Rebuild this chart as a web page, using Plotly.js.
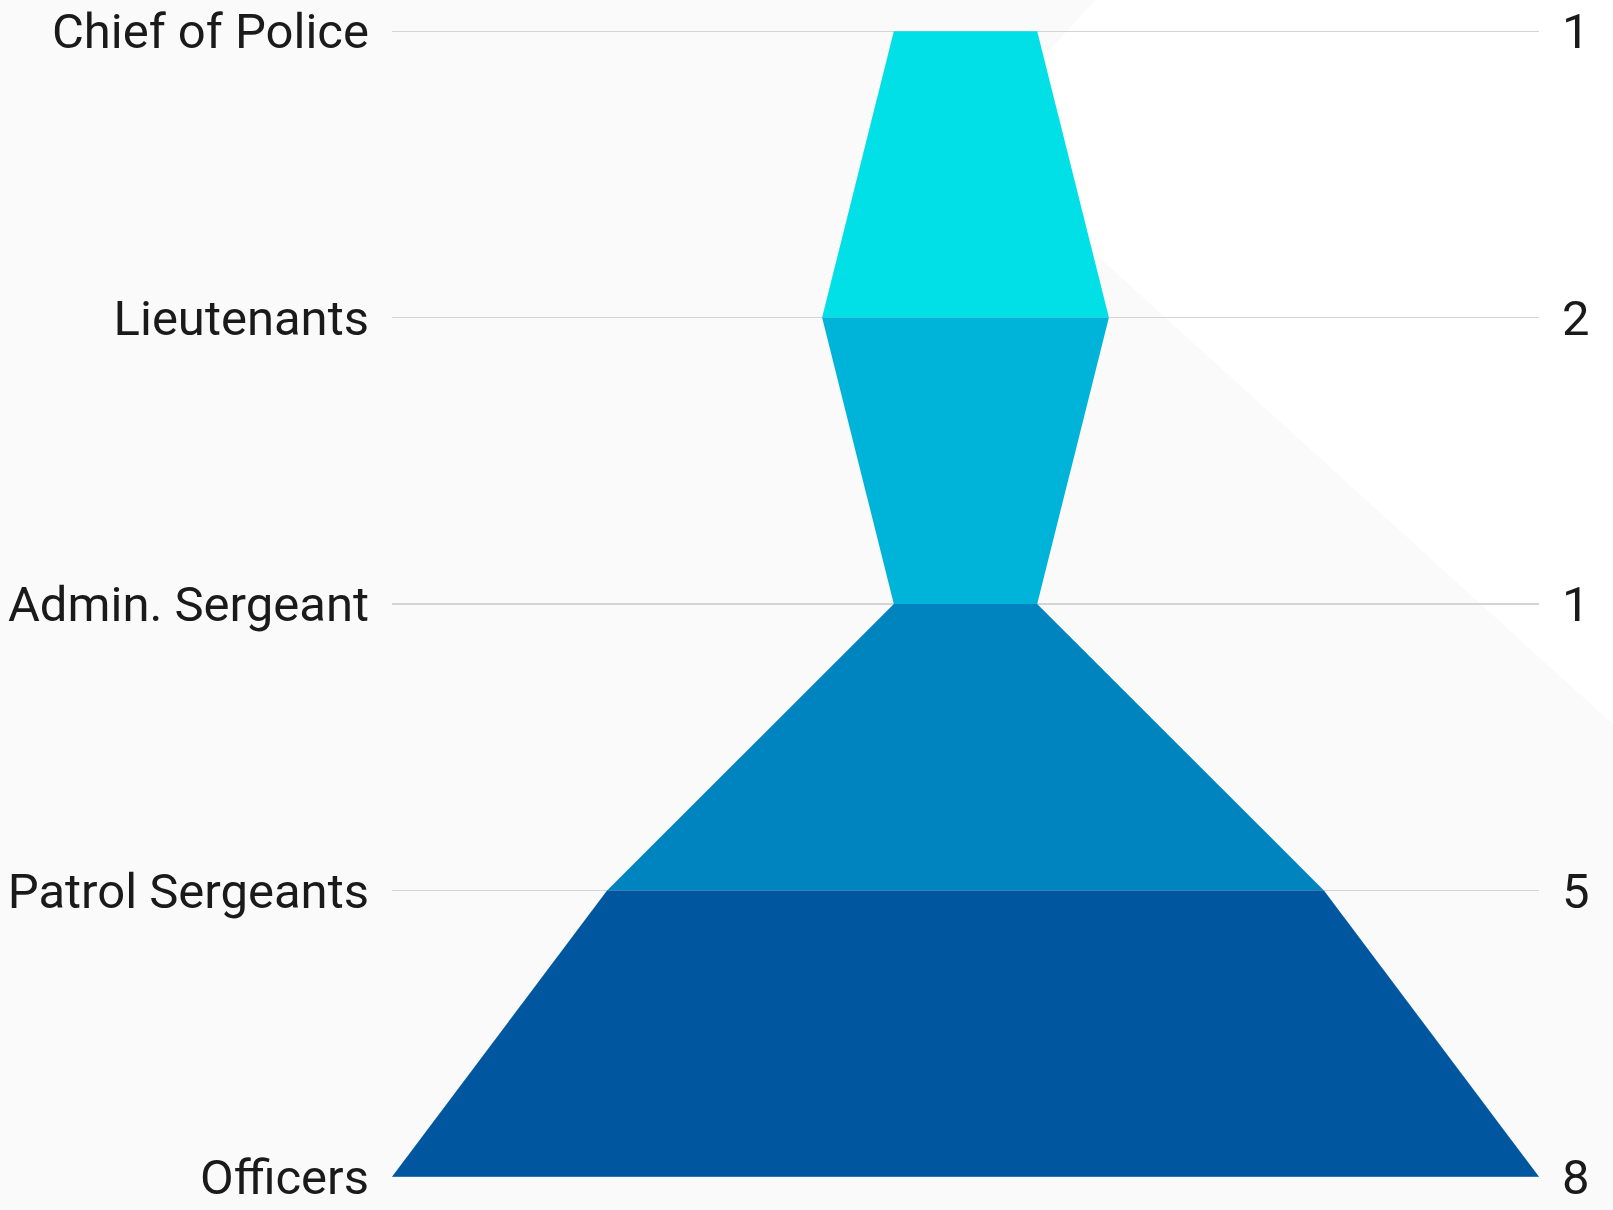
<!DOCTYPE html>
<html>
<head>
<meta charset="utf-8">
<script src="https://cdn.plot.ly/plotly-3.0.1.min.js"></script>
<style>
  html, body { margin: 0; padding: 0; background: #FAFAFA; }
  #chart { width: 1613px; height: 1210px; }
</style>
</head>
<body>
<div id="chart"></div>
<script>
// Data
const categories = ['Chief of Police', 'Lieutenants', 'Admin. Sergeant', 'Patrol Sergeants', 'Officers'];
const counts = [1, 2, 1, 5, 8];
const bandColors = ['#00E0E6', '#00B3D8', '#0084C0', '#0057A0'];

const maxCount = Math.max(...counts);
const positions = categories.map((_, i) => i);

const traces = [];
for (let i = 0; i < categories.length - 1; i++) {
  const a = counts[i] / 2, b = counts[i + 1] / 2;
  traces.push({
    type: 'scatter',
    mode: 'lines',
    x: [-a, a, b, -b, -a],
    y: [positions[i], positions[i], positions[i + 1], positions[i + 1], positions[i]],
    fill: 'toself',
    fillcolor: bandColors[i],
    line: { width: 0, color: bandColors[i] },
    hoverinfo: 'skip',
    showlegend: false
  });
}
// invisible trace to anchor right axis
traces.push({
  type: 'scatter', mode: 'markers', x: [0], y: [0], yaxis: 'y2',
  marker: { opacity: 0 }, hoverinfo: 'skip', showlegend: false
});

const pad = 0.004;
const tickFont = { family: 'Roboto, "Liberation Sans", sans-serif', size: 49, color: '#1a1a1a' };

const layout = {
  width: 1613,
  height: 1210,
  margin: { l: 392, r: 74, t: 30, b: 32 },
  paper_bgcolor: '#FAFAFA',
  plot_bgcolor: 'rgba(0,0,0,0)',
  showlegend: false,
  xaxis: {
    range: [-maxCount / 2, maxCount / 2],
    showgrid: false, zeroline: false, showticklabels: false, showline: false, fixedrange: true
  },
  yaxis: {
    range: [categories.length - 1 + pad, -pad],
    tickmode: 'array',
    tickvals: positions,
    ticktext: categories,
    showgrid: true,
    gridcolor: '#D4D4D4',
    gridwidth: 1.2,
    zeroline: false,
    showline: false,
    ticks: '',
    ticklabelstandoff: 22,
    tickfont: tickFont
  },
  yaxis2: {
    overlaying: 'y',
    side: 'right',
    range: [categories.length - 1 + pad, -pad],
    tickmode: 'array',
    tickvals: positions,
    ticktext: counts.map(String),
    showgrid: false,
    zeroline: false,
    showline: false,
    ticks: '',
    ticklabelstandoff: 22,
    tickfont: tickFont
  },
  shapes: [{
    type: 'path',
    xref: 'paper', yref: 'paper',
    path: 'M 0.6216 1.035 L 1.1 1.035 L 1.1 0.363 L 0.502 0.906 Z',
    fillcolor: '#FFFFFF',
    line: { width: 0 },
    layer: 'below'
  }]
};

Plotly.newPlot('chart', traces, layout, { displayModeBar: false, staticPlot: true });
</script>
</body>
</html>
